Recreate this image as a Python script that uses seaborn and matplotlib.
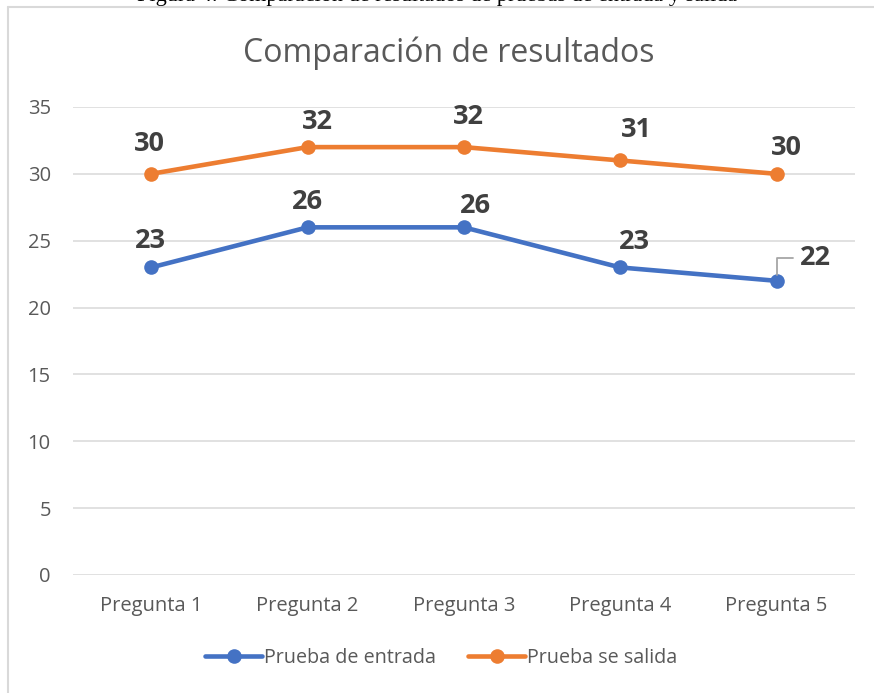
import pandas as pd
import seaborn as sns
import matplotlib.pyplot as plt
from matplotlib.lines import Line2D

preguntas = ["Pregunta 1", "Pregunta 2", "Pregunta 3", "Pregunta 4", "Pregunta 5"]
entrada = [23, 26, 26, 23, 22]
salida = [30, 32, 32, 31, 30]
series = ["Prueba de entrada", "Prueba se salida"]
colores = ["#4472C4", "#ED7D31"]

# desplazamientos de las etiquetas (px) respecto al punto
off_entrada = [(-1, 26), (0, 25), (12, 21), (14, 25), (39, 23)]
off_salida = [(-2, 30), (10, 25), (5, 30), (16, 30), (10, 26)]

filas = []
for serie, valores in zip(series, [entrada, salida]):
    for p, v in zip(preguntas, valores):
        filas.append([p, serie, v])
df = pd.DataFrame(filas, columns=["Pregunta", "Serie", "Valor"])

sns.set_style("white")
plt.rcParams["font.family"] = ["Open Sans", "DejaVu Sans"]

fig = plt.figure(figsize=(8.74, 6.93), dpi=100)
ax = fig.add_axes([0.0835, 0.1703, 0.8945, 0.6753])

sns.lineplot(data=df, x="Pregunta", y="Valor", hue="Serie", palette=colores,
             sort=False, marker="o", markersize=10.5, markeredgewidth=0,
             linewidth=3.3, legend=False, ax=ax, zorder=3)

ax.set_xlim(-0.5, 4.5)
ax.set_ylim(0, 35)
ax.set_yticks(range(0, 36, 5))
ax.grid(axis="y", color="#D9D9D9", linewidth=1.1)
ax.grid(axis="x", visible=False)
for s in ax.spines.values():
    s.set_visible(False)
ax.tick_params(axis="both", length=0, labelsize=14.5, labelcolor="#595959")
ax.tick_params(axis="y", pad=16)
ax.tick_params(axis="x", pad=15)
ax.set_xlabel("")
ax.set_ylabel("")

for valores, offs in [(entrada, off_entrada), (salida, off_salida)]:
    for i, (v, o) in enumerate(zip(valores, offs)):
        ax.annotate(str(v), (i, v), xytext=o, textcoords="offset pixels",
                    ha="center", va="center", fontsize=19.5, fontweight="bold",
                    color="#404040", zorder=5)

# línea guía de la etiqueta 22
ax.annotate("", (4, entrada[4]), xytext=(16, 23), textcoords="offset pixels",
            arrowprops=dict(arrowstyle="-", color="#A6A6A6", lw=1.3,
                            connectionstyle="angle,angleA=0,angleB=90,rad=0",
                            shrinkA=0, shrinkB=4))

handles = [Line2D([0], [0], color=c, lw=3.3, marker="o", markersize=10.5,
                  markeredgewidth=0) for c in colores]
fig.legend(handles, series, loc="center", bbox_to_anchor=(0.505, 0.05),
           ncol=2, frameon=False, fontsize=14.2, labelcolor="#595959",
           handlelength=2.9, handletextpad=0.1, columnspacing=1.6)

fig.suptitle("Comparación de resultados", x=0.513, y=1 - 53 / 693, va="center",
             fontsize=23, color="#595959")
fig.text(0.5, 1 - 1 / 693, "Figura 4. Comparación de resultados de pruebas de entrada y salida",
         ha="center", va="baseline", fontsize=16, family="Liberation Serif",
         color="black")

# marco del gráfico
fig.add_artist(Line2D([8 / 874, 8 / 874], [1 - 7 / 693, -0.1], color="#D9D9D9",
                      lw=1.5, transform=fig.transFigure))
fig.add_artist(Line2D([8 / 874, 1.1], [1 - 7 / 693, 1 - 7 / 693], color="#D9D9D9",
                      lw=1.5, transform=fig.transFigure))

fig.savefig("out.png", dpi=100)
